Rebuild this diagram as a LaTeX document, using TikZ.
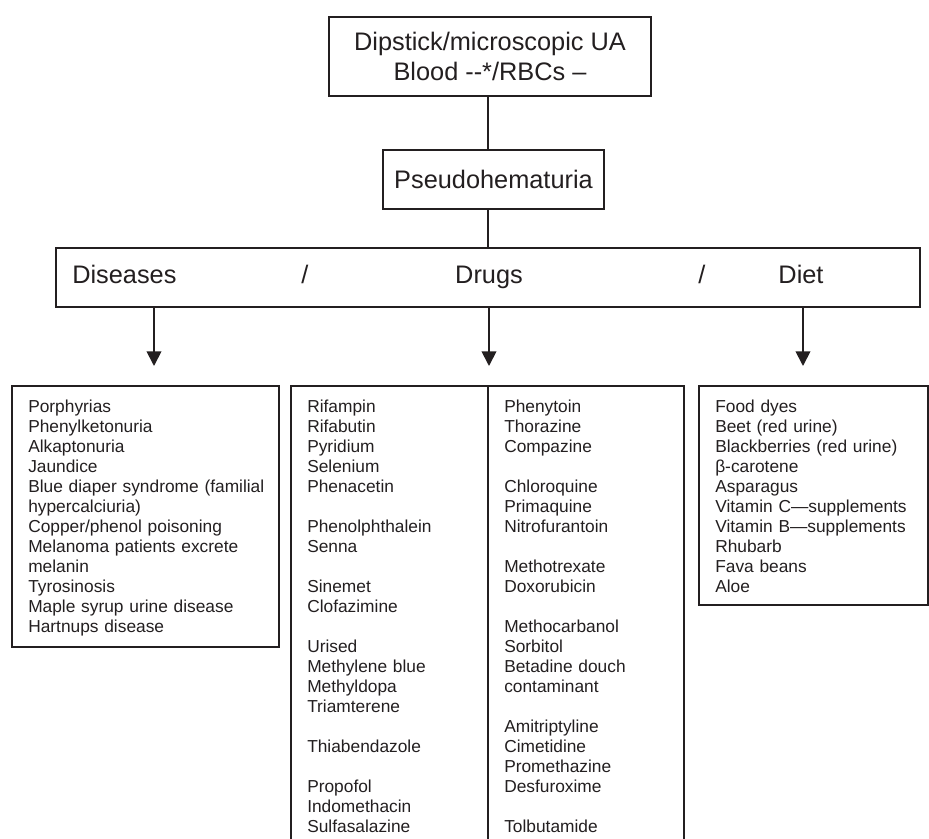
\documentclass[tikz,border=0pt]{standalone}
\usepackage{fontspec}
\setmainfont{Liberation Sans}
\usetikzlibrary{arrows.meta}
\definecolor{ink}{HTML}{231F20}
\begin{document}
\begin{tikzpicture}[x=0.75pt,y=-0.75pt,
  box/.style={draw=ink, line width=1.35pt, inner sep=0pt, rectangle},
  big/.style={font=\fontsize{19}{22.5}\selectfont, text=ink},
  bigtxt/.style={big, inner sep=0pt, anchor=base},
  small/.style={font=\fontsize{13}{15}\selectfont, text=ink, align=left, anchor=base west, inner sep=0pt},
  conn/.style={draw=ink, line width=1.35pt},
  arr/.style={conn, -{Triangle[length=11pt,width=11pt]}}]
\clip (0,0) rectangle (929,839);
\fill[white] (0,0) rectangle (929,839);

% top boxes
\node[box,big,align=center,minimum width=241.5pt,minimum height=59.25pt] (top) at (490,56.5)
  {Dipstick/microscopic UA\\Blood -\kern0pt-*/RBCs –};
\node[box,big,minimum width=165.75pt,minimum height=44.25pt] (pseudo) at (493.5,179.5) {Pseudohematuria};
\node[box,minimum width=648pt,minimum height=44.25pt] (cat) at (488,277.5) {};

% category labels
\node[bigtxt,anchor=base west] (dis) at (72,283) {Diseases};
\node[bigtxt] (sl1) at (305,283) {/};
\node[bigtxt] (drg) at (489,283) {Drugs};
\node[bigtxt] (sl2) at (702,283) {/};
\node[bigtxt] (diet) at (801,283) {Diet};

% connectors
\draw[conn] (top.south -| cat.north) -- (pseudo.north -| cat.north);
\draw[conn] (pseudo.south -| cat.north) -- (cat.north);
\coordinate (a1) at (154,366);
\coordinate (a2) at (489,366);
\coordinate (a3) at (803,366);
\draw[arr] (cat.south -| a1) -- (a1);
\draw[arr] (cat.south -| a2) -- (a2);
\draw[arr] (cat.south -| a3) -- (a3);

% lower boxes
\node[box,minimum width=200.25pt,minimum height=195.75pt] (dbox) at (145.5,516.5) {};
\node[box,minimum width=294.75pt,minimum height=385.5pt] (drugbox) at (487.5,643) {};
\node[box,minimum width=171.75pt,minimum height=164.25pt] (dietbox) at (813.5,495.5) {};
\draw[conn] (488,386) -- (488,900);

% lists
\node[small,text width=190pt] (dlist) at (28,412) {Porphyrias\\Phenylketonuria\\Alkaptonuria\\Jaundice\\Blue diaper syndrome (familial\\hypercalciuria)\\Copper/phenol poisoning\\Melanoma patients excrete\\melanin\\Tyrosinosis\\Maple syrup urine disease\\Hartnups disease};

\node[small,text width=132pt] (drlist1) at (307,412) {Rifampin\\Rifabutin\\Pyridium\\Selenium\\Phenacetin\\[15pt]Phenolphthalein\\Senna\\[15pt]Sinemet\\Clofazimine\\[15pt]Urised\\Methylene blue\\Methyldopa\\Triamterene\\[15pt]Thiabendazole\\[15pt]Propofol\\Indomethacin\\Sulfasalazine};

\node[small,text width=132pt] (drlist2) at (504,412) {Phenytoin\\Thorazine\\Compazine\\[15pt]Chloroquine\\Primaquine\\Nitrofurantoin\\[15pt]Methotrexate\\Doxorubicin\\[15pt]Methocarbanol\\Sorbitol\\Betadine douch\\contaminant\\[15pt]Amitriptyline\\Cimetidine\\Promethazine\\Desfuroxime\\[15pt]Tolbutamide};

\node[small,text width=158pt] (dietlist) at (715,412) {Food dyes\\Beet (red urine)\\Blackberries (red urine)\\β-carotene\\Asparagus\\Vitamin C—supplements\\Vitamin B—supplements\\Rhubarb\\Fava beans\\Aloe};
\end{tikzpicture}
\end{document}
